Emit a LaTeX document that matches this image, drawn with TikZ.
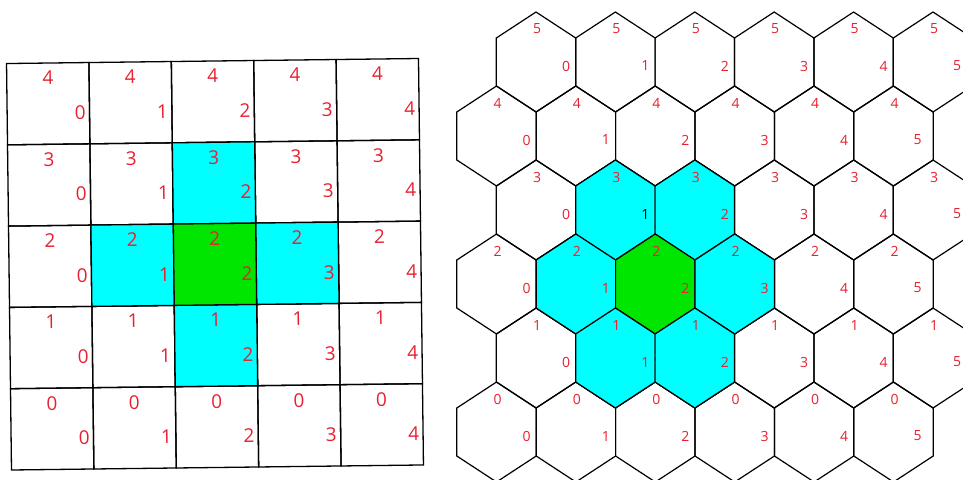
\documentclass[tikz,border=0pt]{standalone}
\usepackage{fontspec}
\setmainfont{Open Sans}
\definecolor{pen}{RGB}{232,32,48}
\definecolor{nbr}{RGB}{0,255,255}
\definecolor{cur}{RGB}{0,230,0}
\tikzset{
  cell/.style={draw, line width=1.3pt, inner sep=0pt, minimum width=82.4pt, minimum height=81.3pt},
  num/.style={text=pen, inner sep=0pt, font=\fontsize{19}{19}\selectfont},
  hnum/.style={text=pen, inner sep=0pt, font=\fontsize{14}{14}\selectfont},
  hexa/.pic={\draw[line width=1.2pt, pic actions] (0,-50) -- (39.7,-24) -- (39.7,24) -- (0,50) -- (-39.7,24) -- (-39.7,-24) -- cycle;}
}
\begin{document}
\begin{tikzpicture}[x=1pt, y=-1pt]
\clip (0,0) rectangle (963,479);
\fill[white] (0,0) rectangle (963,479);
\begin{scope}[rotate around={0.7:(215,265)}, transform shape]
\foreach \r in {0,...,4} \foreach \j in {0,...,4}
  \node[cell] (sq-\r-\j) at ({50.2+82.4*\j}, {101.65+81.3*(4-\r)}) {};
\foreach \r/\j/\col in {3/2/nbr, 2/1/nbr, 2/3/nbr, 1/2/nbr, 2/2/cur}
  \node[cell, fill=\col] (sqf-\r-\j) at (sq-\r-\j) {};
\foreach \r in {0,...,4} \foreach \j in {0,...,4} {
  \node[num] (sr-\r-\j) at ({50.2+82.4*\j}, {76+81.3*(4-\r)}) {\r};
  \node[num] (sc-\r-\j) at ({82+82.4*\j}, {111+81.3*(4-\r)}) {\j};
}
\end{scope}
\foreach \k in {0,...,5} \foreach \j in {0,...,5} {
  \pgfmathsetmacro\px{(mod(\k,2)==0 ? 536 : 496.5)+79.4*\j}
  \pgfmathsetmacro\py{62+74*\k}
  \coordinate (h-\k-\j) at (\px,\py);
  \pic at (h-\k-\j) {hexa};
}
\foreach \k/\j/\col in {2/1/nbr, 2/2/nbr, 3/1/nbr, 3/2/cur, 3/3/nbr, 4/1/nbr, 4/2/nbr}
  \pic[fill=\col] at (h-\k-\j) {hexa};
\foreach \k in {0,...,5} \foreach \j in {0,...,5} {
  \pgfmathsetmacro\px{(mod(\k,2)==0 ? 536 : 496.5)+79.4*\j}
  \pgfmathsetmacro\py{62+74*\k}
  \pgfmathsetmacro\dx{\j==5 ? 24 : 30}
  \pgfmathtruncatemacro\rl{5-\k}
  \def\ink{pen}
  \ifnum\k=2 \ifnum\j=1 \def\ink{black}\fi\fi
  \node[hnum] (hr-\k-\j) at (\px+1,\py-33) {\rl};
  \node[hnum, text=\ink] (hc-\k-\j) at (\px+\dx,\py+4) {\j};
}
\end{tikzpicture}
\end{document}
